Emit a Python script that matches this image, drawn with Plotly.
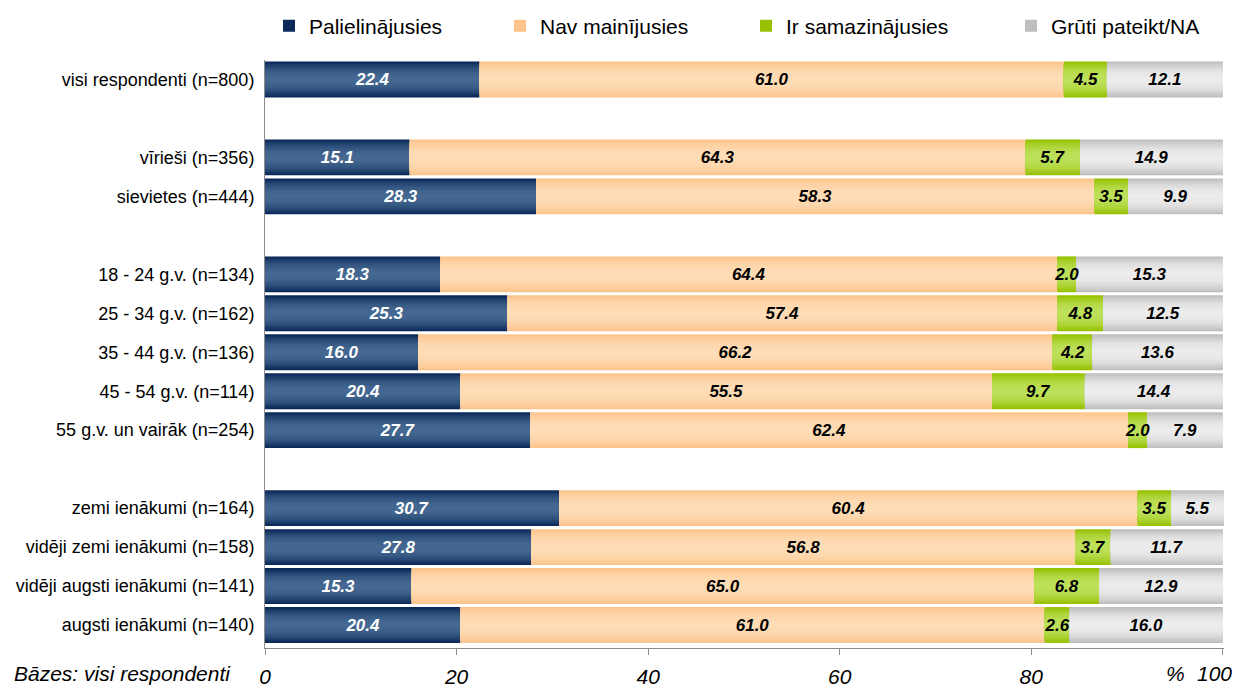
import plotly.graph_objects as go

# ---- data ----
groups = [
    ["visi respondenti (n=800)"],
    ["vīrieši (n=356)", "sievietes (n=444)"],
    ["18 - 24 g.v. (n=134)", "25 - 34 g.v. (n=162)", "35 - 44 g.v. (n=136)",
     "45 - 54 g.v. (n=114)", "55 g.v. un vairāk (n=254)"],
    ["zemi ienākumi (n=164)", "vidēji zemi ienākumi (n=158)",
     "vidēji augsti ienākumi (n=141)", "augsti ienākumi (n=140)"],
]
series_names = ["Palielinājusies", "Nav mainījusies", "Ir samazinājusies", "Grūti pateikt/NA"]
palielinajusies = [22.4, 15.1, 28.3, 18.3, 25.3, 16.0, 20.4, 27.7, 30.7, 27.8, 15.3, 20.4]
nav_mainijusies = [61.0, 64.3, 58.3, 64.4, 57.4, 66.2, 55.5, 62.4, 60.4, 56.8, 65.0, 61.0]
ir_samazinajusies = [4.5, 5.7, 3.5, 2.0, 4.8, 4.2, 9.7, 2.0, 3.5, 3.7, 6.8, 2.6]
gruti_pateikt = [12.1, 14.9, 9.9, 15.3, 12.5, 13.6, 14.4, 7.9, 5.5, 11.7, 12.9, 16.0]
x_ticks = [0, 20, 40, 60, 80, 100]

# ---- styling ----
edge_colors = ["#0a2858", "#fcc48c", "#96c000", "#bebebe"]
mid_colors = ["#446891", "#fedcb6", "#bde05a", "#ececec"]
text_colors = ["#ffffff", "#000000", "#000000", "#000000"]
FONT = "Liberation Sans, Arial, sans-serif"

categories = [c for g in groups for c in g]
cat_array = []
for gi, g in enumerate(groups):
    if gi > 0:
        cat_array.append(" " * gi)
    cat_array.extend(g)

values = [palielinajusies, nav_mainijusies, ir_samazinajusies, gruti_pateikt]
bases = []
run = [0.0] * len(categories)
for vals in values:
    bases.append(list(run))
    run = [r + v for r, v in zip(run, vals)]


def hex2rgb(h):
    h = h.lstrip("#")
    return [int(h[i:i + 2], 16) for i in (0, 2, 4)]


def mix(a, b, t):
    ca, cb = hex2rgb(a), hex2rgb(b)
    return "rgb(%d,%d,%d)" % tuple(round(x + (y - x) * t) for x, y in zip(ca, cb))


fig = go.Figure()
BW = 0.92
N = 14
legend_ids = ["legend", "legend2", "legend3", "legend4"]
for si, name in enumerate(series_names):
    for k in range(N):
        frac = 1 - k / N
        w = BW * frac
        t = 1 - frac ** 2.2
        fig.add_trace(go.Bar(
            y=categories, x=values[si], base=bases[si], orientation="h",
            width=w, marker=dict(color=mix(edge_colors[si], mid_colors[si], t), line=dict(width=0)),
            name=name, showlegend=(k == 0), legend=legend_ids[si], hoverinfo="skip",
        ))
for si, name in enumerate(series_names):
    fig.add_trace(go.Bar(
        y=categories, x=values[si], base=bases[si], orientation="h", width=BW,
        marker=dict(color="rgba(0,0,0,0)", line=dict(width=0)),
        text=["%.1f" % v for v in values[si]], textposition="inside",
        insidetextanchor="middle", textangle=0, constraintext="none", cliponaxis=False,
        textfont=dict(family=FONT, size=17, color=text_colors[si], weight="bold", style="italic"),
        showlegend=False, name=name, hovertemplate="%{y}: %{x:.1f}<extra>" + name + "</extra>",
    ))

# page has an 8px body margin; figure is sized to fit the window after it
OFF = 8
PAGE_W, PAGE_H = 1242, 688
W, H = PAGE_W - OFF, PAGE_H - OFF
PLOT_L, PLOT_R, PLOT_T, PLOT_B = 265, 1224, 60, 648  # page pixels
L, R, T, B = PLOT_L - OFF, PAGE_W - PLOT_R, PLOT_T - OFF, PAGE_H - PLOT_B
pw, ph = PLOT_R - PLOT_L, PLOT_B - PLOT_T


def px_x(px):
    return (px - PLOT_L) / pw


def px_y(py):
    return (PLOT_B - py) / ph


legend_text_px = [309, 540, 786, 1051]
legend_common = dict(orientation="h", yanchor="middle", xanchor="left", bgcolor="rgba(0,0,0,0)",
                     font=dict(family=FONT, size=21, color="#000"), itemwidth=30,
                     itemsizing="constant", tracegroupgap=0)
layout_legends = {}
for lid, px in zip(legend_ids, legend_text_px):
    layout_legends[lid] = dict(legend_common, x=px_x(px - 40), y=px_y(26))

# the last tick label sits at the figure edge; it is drawn as an annotation pulled left
tick_text = [str(v) for v in x_ticks]
last_label = tick_text[-1]
tick_text[-1] = ""
LABEL_FONT = dict(family=FONT, size=21, color="#000", style="italic")

fig.update_layout(
    width=W, height=H,
    margin=dict(l=L, r=R, t=T, b=B, autoexpand=False),
    barmode="overlay",
    plot_bgcolor="#ffffff", paper_bgcolor="#ffffff",
    font=dict(family=FONT, color="#000"),
    uniformtext=dict(mode="show", minsize=17),
    xaxis=dict(range=[0, 100.12], tickvals=x_ticks, ticktext=tick_text,
               showgrid=False, zeroline=False, showline=True, linecolor="#8c8c8c", linewidth=1,
               ticks="outside", ticklen=6, tickcolor="#8c8c8c",
               tickfont=LABEL_FONT, ticklabelstandoff=4, fixedrange=True, automargin=False),
    yaxis=dict(type="category", categoryorder="array", categoryarray=cat_array,
               range=[len(cat_array) - 1 + 0.59, -0.5],
               showgrid=False, zeroline=False, showline=True, linecolor="#8c8c8c", linewidth=1,
               ticks="", tickfont=dict(family=FONT, size=18, color="#000"),
               ticklabelstandoff=6, fixedrange=True, automargin=False),
    annotations=[
        dict(text="Bāzes: visi respondenti", xref="paper", yref="paper",
             x=px_x(12), y=px_y(673), xanchor="left", yanchor="middle",
             showarrow=False, font=LABEL_FONT),
        dict(text="%", xref="paper", yref="paper",
             x=px_x(1175), y=px_y(673), xanchor="center", yanchor="middle",
             showarrow=False, font=LABEL_FONT),
        dict(text=last_label, xref="x", yref="paper",
             x=x_ticks[-1], y=px_y(673), xanchor="center", yanchor="middle", xshift=-8,
             showarrow=False, font=LABEL_FONT),
    ],
    **layout_legends,
)

fig.write_html("out.html")
